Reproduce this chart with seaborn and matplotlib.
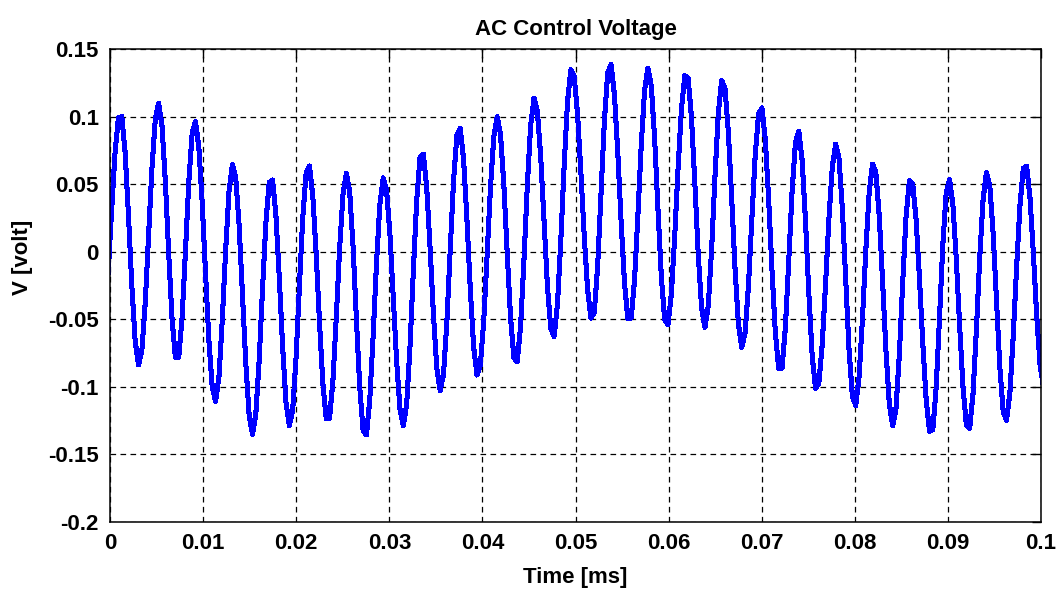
import numpy as np
import pandas as pd
import matplotlib
matplotlib.use("Agg")
import matplotlib.pyplot as plt
import seaborn as sns

# ---- data (time in ms, voltage in volt) ----
peak_t = [0.0011, 0.0052, 0.0091, 0.0132, 0.0173, 0.0213, 0.0254, 0.0294,
          0.0335, 0.0375, 0.0416, 0.0456, 0.0496, 0.0537, 0.0578, 0.0619,
          0.0658, 0.0699, 0.0739, 0.0780, 0.0820, 0.0860, 0.0901, 0.0942,
          0.0983]
peak_v = [0.103, 0.110, 0.097, 0.065, 0.056, 0.065, 0.058, 0.055,
          0.075, 0.093, 0.100, 0.114, 0.136, 0.140, 0.136, 0.133,
          0.128, 0.108, 0.090, 0.080, 0.066, 0.055, 0.054, 0.059,
          0.066]
trough_t = [-0.0009, 0.0031, 0.0072, 0.0113, 0.0153, 0.0193, 0.0234, 0.0274,
            0.0315, 0.0355, 0.0395, 0.0436, 0.0476, 0.0518, 0.0558, 0.0598,
            0.0639, 0.0679, 0.0720, 0.0759, 0.0800, 0.0841, 0.0882, 0.0922,
            0.0962, 0.1003]
trough_v = [-0.060, -0.084, -0.082, -0.111, -0.135, -0.129, -0.127, -0.138,
            -0.129, -0.103, -0.092, -0.084, -0.064, -0.051, -0.053, -0.056,
            -0.056, -0.071, -0.090, -0.103, -0.115, -0.129, -0.136, -0.133,
            -0.126, -0.100]

x_ticks = [0, 0.01, 0.02, 0.03, 0.04, 0.05, 0.06, 0.07, 0.08, 0.09, 0.1]
x_tick_labels = ["0", "0.01", "0.02", "0.03", "0.04", "0.05", "0.06",
                 "0.07", "0.08", "0.09", "0.1"]
y_ticks = [-0.2, -0.15, -0.1, -0.05, 0, 0.05, 0.1, 0.15]
y_tick_labels = ["-0.2", "-0.15", "-0.1", "-0.05", "0", "0.05", "0.1", "0.15"]

title = "AC Control Voltage"
x_label = "Time [ms]"
y_label = "V [volt]"

# ---- build the waveform trace through the read extrema ----
ext = sorted(list(zip(peak_t, peak_v)) + list(zip(trough_t, trough_v)))
ext_t = np.array([e[0] for e in ext])
ext_v = np.array([e[1] for e in ext])
samp_t = np.arange(ext_t[0], ext_t[-1], 0.00036)
idx = np.clip(np.searchsorted(ext_t, samp_t, side="right") - 1, 0, len(ext_t) - 2)
frac = (samp_t - ext_t[idx]) / (ext_t[idx + 1] - ext_t[idx])
samp_v = ext_v[idx] + (ext_v[idx + 1] - ext_v[idx]) * (1 - np.cos(np.pi * frac)) / 2
df = pd.DataFrame({"t": samp_t, "v": samp_v})

# ---- plot ----
sns.set_style("white")
plt.rcParams["font.family"] = ["Liberation Sans", "DejaVu Sans"]
plt.rcParams["font.weight"] = "bold"
plt.rcParams["text.color"] = "black"
plt.rcParams["axes.labelcolor"] = "black"
plt.rcParams["xtick.color"] = "black"
plt.rcParams["ytick.color"] = "black"

fig = plt.figure(figsize=(10.59, 5.91), dpi=100)
ax = fig.add_axes([0.1039, 0.1168, 0.8791, 0.8003])

sns.lineplot(data=df, x="t", y="v", ax=ax, color="#0000ff", linewidth=2.9,
             estimator=None, sort=False, antialiased=False)

ax.set_xlim(0, 0.1)
ax.set_ylim(-0.2, 0.15)
ax.set_xticks(x_ticks)
ax.set_xticklabels(x_tick_labels)
ax.set_yticks(y_ticks)
ax.set_yticklabels(y_tick_labels)

ax.grid(True, color="black", linestyle=(0, (4.5, 3.5)), linewidth=0.9)
ax.set_axisbelow(True)
for s in ax.spines.values():
    s.set_color("black")
    s.set_linewidth(1.1)
    s.set_visible(True)

ax.tick_params(direction="in", length=6.5, width=1, top=True, right=True,
               labelsize=16, pad=8, colors="black")
for lab in ax.get_xticklabels() + ax.get_yticklabels():
    lab.set_fontweight("bold")
    lab.set_color("black")

ax.set_title(title, fontsize=16, fontweight="bold", pad=10, color="black")
ax.set_xlabel(x_label, fontsize=16, fontweight="bold", color="black")
ax.set_ylabel(y_label, fontsize=16, fontweight="bold", color="black")
ax.xaxis.set_label_coords(0.5, -0.095)
ax.yaxis.set_label_coords(-0.083, 0.56)

fig.savefig("out.png", dpi=100)
